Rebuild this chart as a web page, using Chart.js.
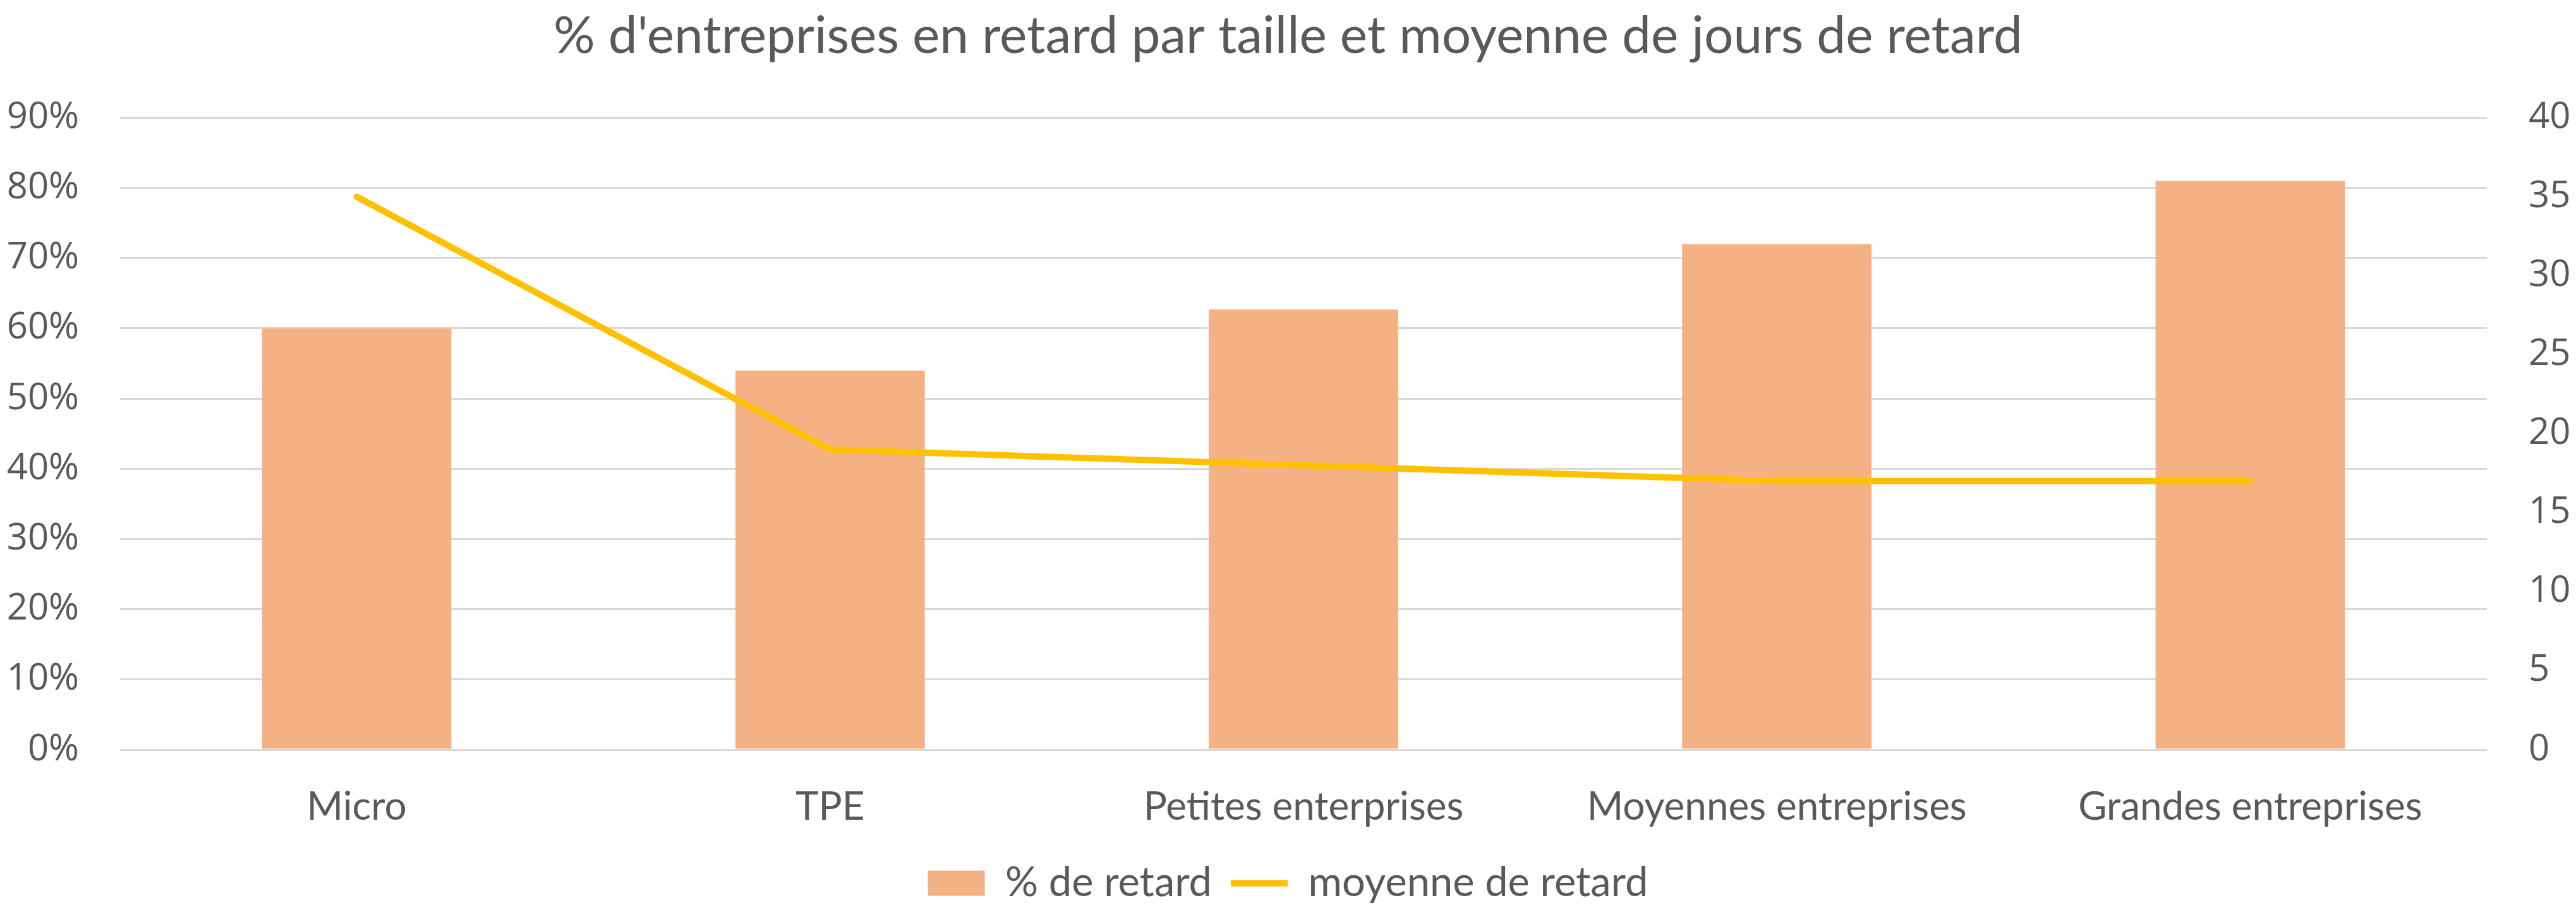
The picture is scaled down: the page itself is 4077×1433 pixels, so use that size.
<!DOCTYPE html>
<html lang="fr">
<head>
    <meta charset="UTF-8">
    <title>% d'entreprises en retard par taille</title>
    <script src="https://cdn.jsdelivr.net/npm/chart.js@4.4.0/dist/chart.umd.min.js"></script>
    <style>
        html, body { margin: 0; padding: 0; background: #fff; }
        .wrap { width: 4077px; height: 1433px; position: relative; }
    </style>
</head>
<body>
    <div class="wrap">
        <canvas id="retardChart"></canvas>
    </div>

    <script>
        // Data
        const categories = ['Micro', 'TPE', 'Petites enterprises', 'Moyennes entreprises', 'Grandes entreprises'];
        const pctRetard = [60, 54, 62.7, 72, 81];      // % de retard (left axis)
        const moyenneJours = [35, 19, 18, 17, 17];     // moyenne de retard, jours (right axis)

        const textColor = '#595959';
        const gridColor = '#D9D9D9';

        const ctx = document.getElementById('retardChart').getContext('2d');
        const chart = new Chart(ctx, {
            data: {
                labels: categories,
                datasets: [
                    {
                        type: 'line',
                        label: 'moyenne de retard',
                        data: moyenneJours,
                        yAxisID: 'y1',
                        borderColor: '#FFC000',
                        backgroundColor: '#FFC000',
                        borderWidth: 10,
                        borderCapStyle: 'round',
                        borderJoinStyle: 'round',
                        pointRadius: 0,
                        pointStyle: 'line',
                        tension: 0,
                        order: 1
                    },
                    {
                        type: 'bar',
                        label: '% de retard',
                        data: pctRetard,
                        yAxisID: 'y',
                        backgroundColor: '#F4B183',
                        borderWidth: 0,
                        pointStyle: 'rect',
                        categoryPercentage: 1,
                        barPercentage: 0.4,
                        order: 2
                    }
                ]
            },
            options: {
                responsive: true,
                maintainAspectRatio: false,
                devicePixelRatio: 1,
                animation: false,
                // legend sits a little lower than the default layout puts it
                layout: { padding: { top: 0, left: 0, right: 0, bottom: -8 } },
                plugins: {
                    title: {
                        display: true,
                        text: "% d'entreprises en retard par taille et moyenne de jours de retard",
                        color: textColor,
                        font: { family: 'Lato', size: 82, weight: 'normal' },
                        padding: { top: 8, bottom: 80 }
                    },
                    legend: {
                        position: 'bottom',
                        reverse: true,
                        labels: {
                            color: textColor,
                            font: { family: 'Lato', size: 65 },
                            usePointStyle: true,
                            pointStyleWidth: 90,
                            boxHeight: 40,
                            padding: 30,
                            generateLabels: (c) => {
                                const items = Chart.defaults.plugins.legend.labels.generateLabels(c);
                                items.forEach(it => {
                                    const ds = c.data.datasets[it.datasetIndex];
                                    it.pointStyle = ds.pointStyle;
                                });
                                return items;
                            }
                        }
                    },
                    tooltip: { enabled: false }
                },
                scales: {
                    x: {
                        grid: { display: false, drawTicks: false },
                        border: { display: false },
                        ticks: {
                            color: textColor,
                            font: { family: 'Lato', size: 62 },
                            padding: 54,
                            maxRotation: 0,
                            autoSkip: false
                        },
                        afterFit: (scale) => { scale.height = 149; }
                    },
                    y: {
                        position: 'left',
                        min: 0,
                        max: 90,
                        grid: { color: gridColor, lineWidth: 3, drawTicks: false },
                        border: { display: false },
                        ticks: {
                            stepSize: 10,
                            color: textColor,
                            font: { family: 'Open Sans', size: 58 },
                            padding: 65,
                            callback: (v) => v + '%'
                        },
                        afterFit: (scale) => { scale.width = 190; }
                    },
                    y1: {
                        position: 'right',
                        min: 0,
                        max: 40,
                        grid: { display: false, drawTicks: false },
                        border: { display: false },
                        ticks: {
                            stepSize: 5,
                            color: textColor,
                            font: { family: 'Open Sans', size: 58 },
                            padding: 66
                        },
                        afterFit: (scale) => { scale.width = 141; }
                    }
                }
            }
        });
    </script>
</body>
</html>
